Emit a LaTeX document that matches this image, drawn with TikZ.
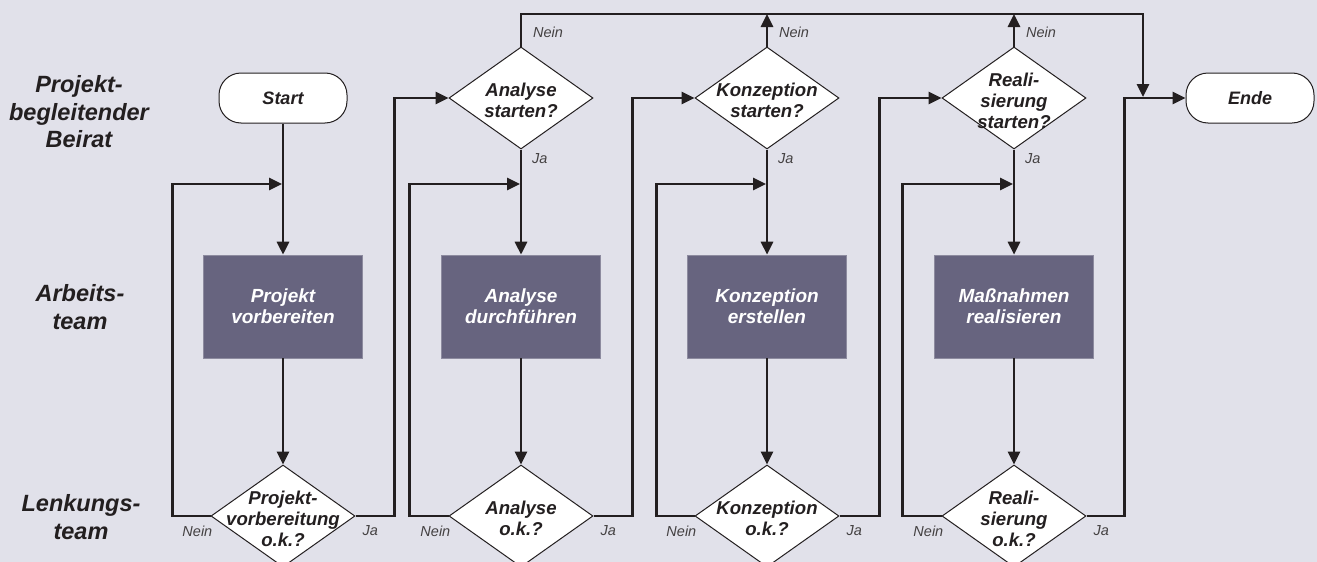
\documentclass[tikz,border=0pt]{standalone}
\usepackage{fontspec}
\setmainfont{Liberation Sans}
\usetikzlibrary{arrows.meta,calc,positioning,shapes.geometric}
\definecolor{bgpanel}{HTML}{E1E1EA}
\definecolor{taskfill}{HTML}{67647F}
\definecolor{linedark}{HTML}{231F20}
\tikzset{
  flow/.style={-{Triangle[length=13pt,width=12pt]},line width=2.8pt,linedark},
  terminal/.style={draw=linedark,fill=white,rounded corners=22pt,minimum width=128pt,minimum height=50pt,line width=1pt,text=linedark,font=\fontsize{18}{21}\selectfont\bfseries\itshape},
  decision/.style={diamond,draw=linedark,fill=white,line width=1pt,minimum width=144pt,minimum height=102pt,inner sep=0pt},
  dtext/.style={align=center,inner sep=0pt,yshift=-2.5pt,text=linedark,font=\fontsize{18.6}{21}\selectfont\bfseries\itshape},
  task/.style={rectangle,fill=taskfill,draw=taskfill!75!white,line width=0.6pt,minimum width=159pt,minimum height=103pt,align=center,text=white,font=\fontsize{19}{21}\selectfont\bfseries\itshape},
  lane/.style={align=center,text=linedark,font=\fontsize{23.5}{27.5}\selectfont\bfseries\itshape},
  answer/.style={text=linedark!85,inner sep=0pt,font=\fontsize{14.5}{16}\selectfont\itshape}
}
\begin{document}
\begin{tikzpicture}[x=1pt,y=-1pt]
\fill[bgpanel] (0,0) rectangle (1317,562);
\useasboundingbox (0,0) rectangle (1317,562);
% lanes
\node[lane] (beirat) at (79,112) {Projekt-\\begleitender\\Beirat};
\node[lane] (arbeit) at (80,307) {Arbeits-\\team};
\node[lane] (lenkung) at (81,517) {Lenkungs-\\team};
% column 1 prepare
\node[terminal] (start) at (283,98) {Start};
\node[task] (task1) at (283,306.5) {Projekt\\vorbereiten};
\node[decision,label={[dtext]center:{Projekt-\\vorbereitung\\o.k.?}}] (chk1) at (283,516) {};
% column 2 analysis
\node[decision,label={[dtext]center:{Analyse\\starten?}}] (dec2) at (521,98) {};
\node[task] (task2) at (521,306.5) {Analyse\\durchführen};
\node[decision,label={[dtext]center:{Analyse\\o.k.?}}] (chk2) at (521,516) {};
% column 3 concept
\node[decision,label={[dtext]center:{Konzeption\\starten?}}] (dec3) at (767,98) {};
\node[task] (task3) at (767,306.5) {Konzeption\\erstellen};
\node[decision,label={[dtext]center:{Konzeption\\o.k.?}}] (chk3) at (767,516) {};
% column 4 realisation
\node[decision,label={[dtext]center:{Reali-\\sierung\\starten?}}] (dec4) at (1014,98) {};
\node[task] (task4) at (1014,306.5) {Maßnahmen\\realisieren};
\node[decision,label={[dtext]center:{Reali-\\sierung\\o.k.?}}] (chk4) at (1014,516) {};
\node[terminal] (ende) at (1250,98) {Ende};
% joints
\coordinate (j1) at (282,184);
\coordinate (j2) at (520,184);
\coordinate (j3) at (766,184);
\coordinate (j4) at (1013,184);
\coordinate (top) at (1143,14);
\coordinate (endin) at (1143,97);
% main flow
\draw[flow] (start) -- (task1);
\draw[flow] (task1) -- (chk1);
\draw[flow] (chk1.west) -- ++(-38,0) |- (j1);
\draw[flow] (chk1.east) -- ++(39,0) |- (dec2.west);
\draw[flow] (dec2) -- (task2);
\draw[flow] (task2) -- (chk2);
\draw[flow] (chk2.west) -- ++(-39,0) |- (j2);
\draw[flow] (chk2.east) -- ++(39,0) |- (dec3.west);
\draw[flow] (dec3) -- (task3);
\draw[flow] (task3) -- (chk3);
\draw[flow] (chk3.west) -- ++(-38,0) |- (j3);
\draw[flow] (chk3.east) -- ++(40,0) |- (dec4.west);
\draw[flow] (dec4) -- (task4);
\draw[flow] (task4) -- (chk4);
\draw[flow] (chk4.west) -- ++(-39,0) |- (j4);
\draw[flow] (chk4.east) -- ++(38,0) |- (ende.west);
% abort path
\draw[flow] (dec2.north) |- (top) -- (endin);
\draw[flow] (dec3.north) -- (dec3.north |- top);
\draw[flow] (dec4.north) -- (dec4.north |- top);
% answers
\node[answer,anchor=west] (n2) at ($(dec2.north)+(12,-14)$) {Nein};
\node[answer,anchor=west] (n3) at ($(dec3.north)+(12,-14)$) {Nein};
\node[answer,anchor=west] (n4) at ($(dec4.north)+(12,-14)$) {Nein};
\node[answer,anchor=west] (y2) at ($(dec2.south)+(11,9)$) {Ja};
\node[answer,anchor=west] (y3) at ($(dec3.south)+(11,9)$) {Ja};
\node[answer,anchor=west] (y4) at ($(dec4.south)+(11,9)$) {Ja};
\foreach \k in {1,2,3,4}{
  \node[answer,anchor=east] (nn\k) at ($(chk\k.west)+(2,15)$) {Nein};
  \node[answer,anchor=west] (yy\k) at ($(chk\k.east)+(7,15)$) {Ja};
}
\end{tikzpicture}
\end{document}
